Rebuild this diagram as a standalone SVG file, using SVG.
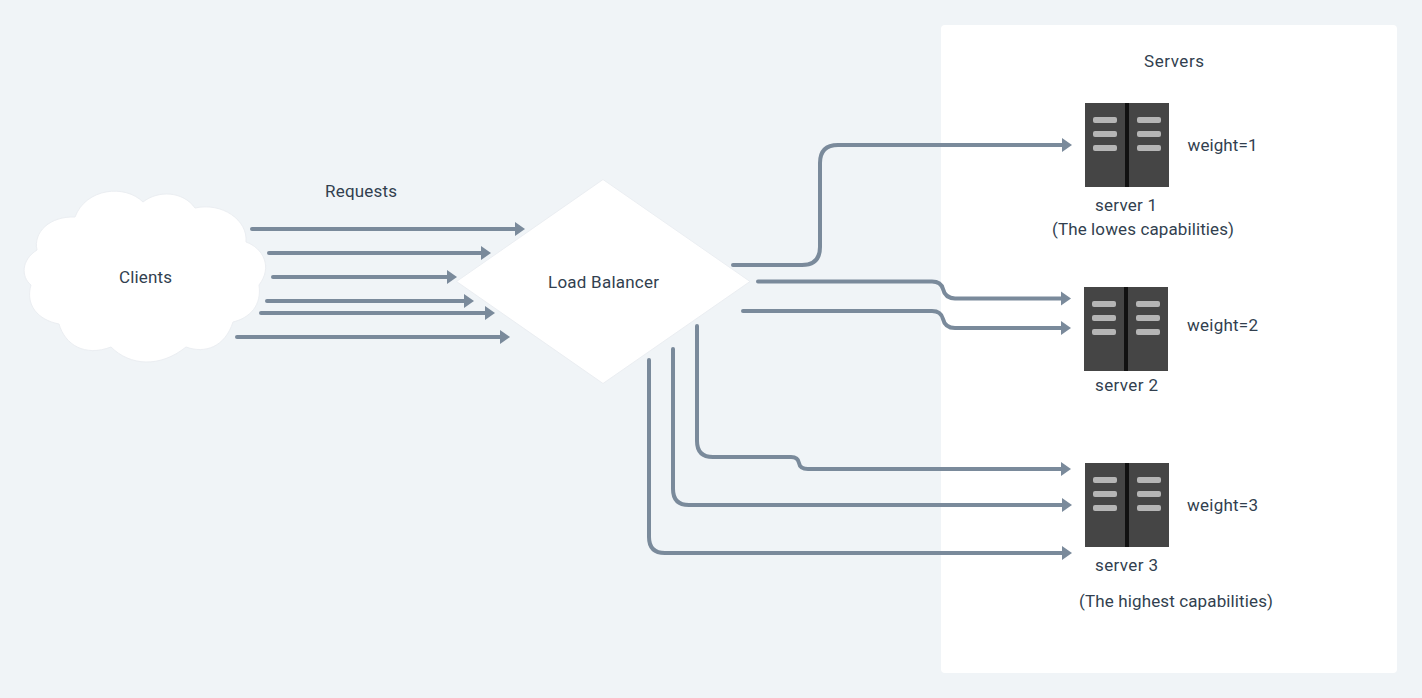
<svg xmlns="http://www.w3.org/2000/svg" width="1422" height="698" viewBox="0 0 1422 698">
<style>
text{font-family:"Roboto","Liberation Sans",sans-serif;font-size:17px;fill:#323f4f;text-anchor:middle}
.shape{fill:#fff;stroke:#ebeef2;stroke-width:1}
.c{fill:none;stroke:#7a8a9b;stroke-width:4;stroke-linecap:round;marker-end:url(#a)}
.body{fill:#454545}.bar{fill:#111}.pill{fill:#b5b5b5}
</style>
<defs>
<marker id="a" markerUnits="userSpaceOnUse" markerWidth="12" markerHeight="16" refX="1" refY="8" orient="auto"><path d="M0 1L10 8L0 15Z" fill="#7a8a9b"/></marker>
<g id="srv">
<rect class="body" width="84" height="84"/><rect class="bar" x="40" width="4" height="84"/>
<rect class="pill" x="8" y="14" width="24" height="6" rx="2"/><rect class="pill" x="8" y="28" width="24" height="6" rx="2"/><rect class="pill" x="8" y="42" width="24" height="6" rx="2"/>
<rect class="pill" x="52" y="14" width="24" height="6" rx="2"/><rect class="pill" x="52" y="28" width="24" height="6" rx="2"/><rect class="pill" x="52" y="42" width="24" height="6" rx="2"/>
</g>
</defs>
<rect width="1422" height="698" fill="#f0f4f7"/>
<g id="panel"><rect x="941" y="25" width="456" height="648" rx="4" fill="#fff"/><text x="1174" y="66.500" textLength="60">Servers</text></g>
<g id="clients">
<path class="shape" d="M37 250C33 232 50 216 75 217C86 188 125 184 143 202C158 190 183 191 195 208C222 202 248 220 246 242C263 248 273 267 259 285C262 305 250 318 233 322C225 347 205 354 186 347C160 368 130 366 111 347C85 357 65 345 59 324C38 320 25 305 31 285C21 277 21 260 37 250Z"/>
<text x="145.500" y="283" textLength="53">Clients</text>
</g>
<g id="load-balancer"><path class="shape" d="M603 179.500L750 281.500L603 383.500L456.500 281.500Z"/><text x="603.500" y="288" textLength="111">Load Balancer</text></g>
<g id="server-1"><use href="#srv" x="1085" y="103"/><text x="1126" y="211" textLength="62">server 1</text><text x="1143" y="234.500" textLength="182">(The lowes capabilities)</text><text x="1222.500" y="150.500" textLength="70">weight=1</text></g>
<g id="server-2"><use href="#srv" x="1084" y="287"/><text x="1126.500" y="391" textLength="63">server 2</text><text x="1222.500" y="330.500" textLength="71">weight=2</text></g>
<g id="server-3"><use href="#srv" x="1085" y="463"/><text x="1126.500" y="571" textLength="63">server 3</text><text x="1176" y="606.500" textLength="194">(The highest capabilities)</text><text x="1222.500" y="510.500" textLength="71">weight=3</text></g>
<text id="requests" x="361" y="196.500" textLength="72">Requests</text>
<g id="connectors">
<path class="c" d="M252 229H516"/>
<path class="c" d="M269 253H482"/>
<path class="c" d="M273 277H448"/>
<path class="c" d="M267 301H465"/>
<path class="c" d="M261 313H486"/>
<path class="c" d="M237 337H501"/>
<path class="c" d="M733 265H802Q820 265 820 247V163Q820 145 838 145H1063"/>
<path class="c" d="M758 281.500H932Q941 281.500 943 289Q945 298 955 298.500H1062"/>
<path class="c" d="M743 311H932Q941 311 943 319Q945 328 955 328H1062"/>
<path class="c" d="M697 326V441Q697 457 713 457H791Q798 457 799 463Q800 469 808 469H1062"/>
<path class="c" d="M673 349V489Q673 505 689 505H1063"/>
<path class="c" d="M649 360V537Q649 553 665 553H1063"/>
</g>
</svg>
